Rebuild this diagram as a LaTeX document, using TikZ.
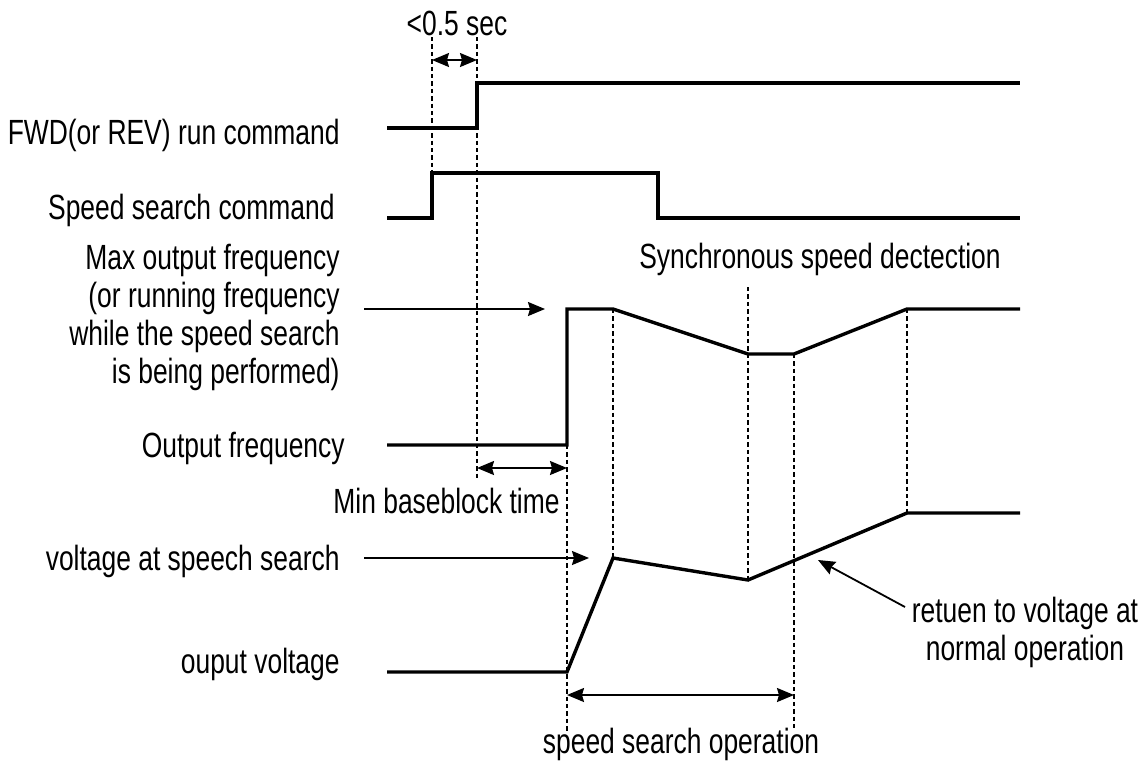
\documentclass[tikz,border=0pt]{standalone}
\usepackage{fontspec}
\setmainfont{Liberation Sans}[FakeStretch=0.755]
\usetikzlibrary{arrows.meta}

\begin{document}
\begin{tikzpicture}[
x=0.5pt,y=-0.5pt,
font=\fontsize{17.5pt}{19pt}\selectfont,
>={Stealth[length=8.5pt,width=7pt,inset=1pt]},
sig/.style={line width=1.7pt},
guide/.style={line width=0.6pt,dash pattern=on 2.2pt off 1.5pt},
arr/.style={line width=0.9pt,->},
dim/.style={line width=0.9pt,<->},
lbl/.style={inner sep=0pt,anchor=base east},
txt/.style={inner sep=0pt,anchor=base}
]
\useasboundingbox (0,0) rectangle (1147,762);

% labels on the left
\node[lbl] (fwd) at (340,144) {FWD(or REV) run command};
\node[lbl] (ssc) at (335,219) {Speed search command};
\node[inner sep=0pt,anchor=east,align=right] (mof) at (340,317)
  {Max output frequency\\(or running frequency\\while the speed search\\is being performed)};
\node[lbl] (of)  at (345,457) {Output frequency};
\node[lbl] (vss) at (340,570) {voltage at speech search};
\node[lbl] (ov)  at (340,673) {ouput voltage};

% other labels
\node[txt] (lt)  at (457,35)  {<0.5 sec};
\node[lbl] (mbt) at (560,513) {Min baseblock time};
\node[txt] (ssd) at (820,268) {Synchronous speed dectection};
\node[inner sep=0pt,align=center] (ret) at (1025,632)
  {retuen to voltage at\\normal operation};
\node[txt] (sso) at (681,753) {speed search operation};

% dashed guides
\foreach \x/\ya/\yb in {432/37/218,477/37/480,567/445/733,613/309/558,
748/287/580,794/354/728,907/309/513}
\draw[guide] (\x,\ya) -- (\x,\yb);

% signals
\draw[sig] (387,128) -- (477,128) -- (477,83) -- (1020,83);
\draw[sig] (387,218) -- (432,218) -- (432,173) -- (658,173) -- (658,218) -- (1020,218);
\draw[sig] (387,445) -- (567,445) -- (567,309) -- (613,309) -- (748,354)
  -- (794,354) -- (907,309) -- (1020,309);
\draw[sig] (387,672) -- (567,672) -- (613,558) -- (748,580) -- (907,513) -- (1020,513);

% arrows
\coordinate (lt1) at (432,60);  \coordinate (lt2) at (477,60);
\coordinate (mo1) at (364,309); \coordinate (mo2) at (545,309);
\coordinate (mb1) at (477,468); \coordinate (mb2) at (567,468);
\coordinate (vs1) at (364,558); \coordinate (vs2) at (589,558);
\coordinate (rt1) at (905,607); \coordinate (rt2) at (818,560);
\coordinate (so1) at (567,695); \coordinate (so2) at (794,695);
\draw[dim] (lt1) -- (lt2);
\draw[arr] (mo1) -- (mo2);
\draw[dim] (mb1) -- (mb2);
\draw[arr] (vs1) -- (vs2);
\draw[arr] (rt1) -- (rt2);
\draw[dim] (so1) -- (so2);
\end{tikzpicture}
\end{document}
